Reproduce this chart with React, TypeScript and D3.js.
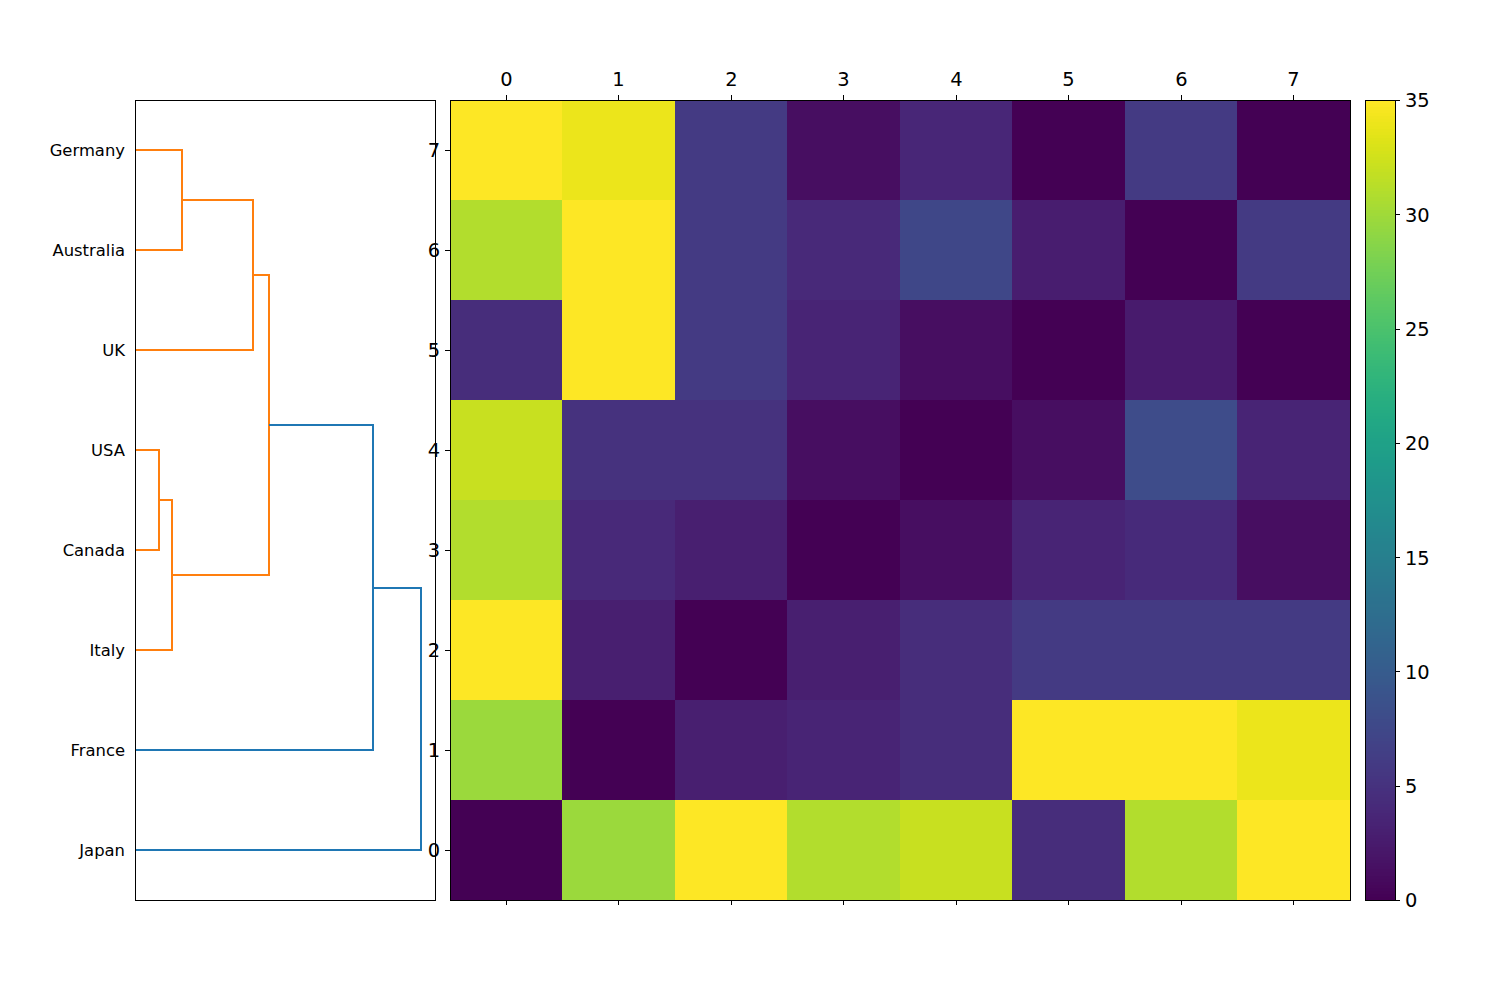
import { useMemo } from "react";
import * as d3 from "d3";

const countries = ["Japan", "France", "Italy", "Canada", "USA", "UK", "Australia", "Germany"];
const rowIds = [0, 1, 2, 3, 4, 5, 6, 7];
const colorTicks = [0, 5, 10, 15, 20, 25, 30, 35];

// rows listed from index 0 (bottom of the plot) upward
const row0 = [0, 29.8, 35, 31, 32, 4.5, 31, 35];
const row1 = [29.8, 0, 3, 3.5, 4.5, 35, 35, 34];
const row2 = [35, 3, 0, 3, 4.5, 6, 6, 6];
const row3 = [30.9, 4, 3, 0, 1.3, 3.5, 4.2, 1.3];
const row4 = [32, 5, 5, 1.3, 0, 1.3, 8, 3.5];
const row5 = [4.5, 35, 6, 3.5, 1.3, 0, 2.5, 0];
const row6 = [31, 35, 6, 4, 7.5, 2.8, 0, 6];
const row7 = [35, 34, 6, 1.3, 3.8, 0, 6, 0];
const matrix = [row0, row1, row2, row3, row4, row5, row6, row7];

// merges: [a, b, height, id, colour], leaf position is its index in countries
const merges: Array<[string, string, number, string, string]> = [
  ["Germany", "Australia", 5.75, "m1", "#ff7f0e"],
  ["m1", "UK", 14.45, "m2", "#ff7f0e"],
  ["USA", "Canada", 2.9, "m3", "#ff7f0e"],
  ["m3", "Italy", 4.5, "m4", "#ff7f0e"],
  ["m2", "m4", 16.4, "m5", "#ff7f0e"],
  ["m5", "France", 29.1, "m6", "#1f77b4"],
  ["m6", "Japan", 35, "m7", "#1f77b4"],
];

const FONT = "'DejaVu Sans', sans-serif";

export default function App() {
  const dendroX = d3.scaleLinear().domain([0, 35 * 1.05]).range([135, 435]);
  const dendroY = d3.scalePoint().domain(countries).range([850, 150]);
  const cellX = d3.scaleBand<number>().domain(rowIds).range([450, 1350]);
  const cellY = d3.scaleBand<number>().domain(rowIds).range([900, 100]);
  const color = d3.scaleSequential(d3.interpolateViridis).domain([0, 35]);
  const barY = d3.scaleLinear().domain([0, 35]).range([900, 100]);
  const barSteps = d3.range(256);

  const links = useMemo(() => {
    const nodes = new Map<string, { y: number; h: number }>();
    countries.forEach((c) => nodes.set(c, { y: dendroY(c) as number, h: 0 }));
    return merges.map(([a, b, h, id, stroke]) => {
      const na = nodes.get(a)!;
      const nb = nodes.get(b)!;
      nodes.set(id, { y: (na.y + nb.y) / 2, h });
      const line = d3.line();
      const d = line([
        [dendroX(na.h), na.y],
        [dendroX(h), na.y],
        [dendroX(h), nb.y],
        [dendroX(nb.h), nb.y],
      ]) as string;
      return { id, d, stroke };
    });
  }, []);

  const half = cellX.bandwidth() / 2;
  const tickX = (i: number) => Math.floor((cellX(i) as number) + half) + 0.5;
  const tickY = (i: number) => (cellY(i) as number) + cellY.bandwidth() / 2 + 0.5;

  return (
    <svg width={1500} height={1000} style={{ position: "absolute", left: 0, top: 0, background: "#fff" }} fontFamily={FONT}>
      {/* dendrogram */}
      <g>
        {links.map((l) => (
          <path key={l.id} d={l.d} fill="none" stroke={l.stroke} strokeWidth={2} shapeRendering="crispEdges" />
        ))}
        <rect x={135.5} y={100.5} width={300} height={800} fill="none" stroke="#000" strokeWidth={1} shapeRendering="crispEdges" />
        {countries.map((c) => (
          <text key={c} x={125} y={dendroY(c)} dy="0.36em" textAnchor="end" fontSize={16.4} fill="#000">
            {c}
          </text>
        ))}
      </g>

      {/* heatmap */}
      <g>
        {matrix.map((row, r) =>
          row.map((v, c) => {
            const x0 = Math.floor(cellX(c) as number);
            const x1 = Math.floor((cellX(c) as number) + cellX.bandwidth());
            return (
              <rect
                key={`${r}-${c}`}
                x={x0}
                y={cellY(r)}
                width={x1 - x0}
                height={cellY.bandwidth()}
                fill={color(v)}
                shapeRendering="crispEdges"
              />
            );
          })
        )}
        <rect x={450.5} y={100.5} width={900} height={800} fill="none" stroke="#000" strokeWidth={1} shapeRendering="crispEdges" />
        {rowIds.map((i) => (
          <g key={i}>
            <line x1={tickX(i)} x2={tickX(i)} y1={100} y2={95} stroke="#000" strokeWidth={1} shapeRendering="crispEdges" />
            <line x1={tickX(i)} x2={tickX(i)} y1={900} y2={905} stroke="#000" strokeWidth={1} shapeRendering="crispEdges" />
            <text x={tickX(i)} y={86} textAnchor="middle" fontSize={19.44} fill="#000">
              {i}
            </text>
            <line x1={450} x2={445} y1={tickY(i)} y2={tickY(i)} stroke="#000" strokeWidth={1} shapeRendering="crispEdges" />
            <text x={440.2} y={tickY(i) - 0.5} dy="0.38em" textAnchor="end" fontSize={19.44} fill="#000">
              {i}
            </text>
          </g>
        ))}
      </g>

      {/* colorbar */}
      <g>
        {barSteps.map((s) => {
          const v0 = (s / 256) * 35;
          const v1 = ((s + 1) / 256) * 35;
          return (
            <rect
              key={s}
              x={1365}
              y={barY(v1)}
              width={30}
              height={barY(v0) - barY(v1) + 0.5}
              fill={color((s / 255) * 35)}
              shapeRendering="crispEdges"
            />
          );
        })}
        <rect x={1365.5} y={100.5} width={30} height={800} fill="none" stroke="#000" strokeWidth={1} shapeRendering="crispEdges" />
        {colorTicks.map((t) => (
          <g key={t}>
            <line x1={1395} x2={1400} y1={barY(t) + 0.5} y2={barY(t) + 0.5} stroke="#000" strokeWidth={1} shapeRendering="crispEdges" />
            <text x={1405} y={barY(t)} dy="0.38em" fontSize={19.44} fill="#000">
              {t}
            </text>
          </g>
        ))}
      </g>
    </svg>
  );
}
